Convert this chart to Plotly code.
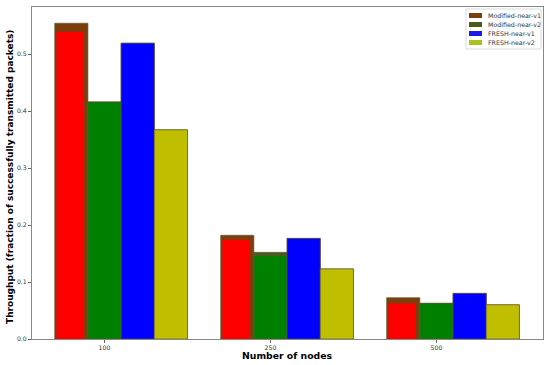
import plotly.graph_objects as go

# ---- data ----
categories = ["100", "250", "500"]
series_names = ["Modified-near-v1", "Modified-near-v2", "FRESH-near-v1", "FRESH-near-v2"]
mod_v1 = [0.554, 0.182, 0.0725]
mod_v2 = [0.416, 0.152, 0.0626]
fresh_v1 = [0.519, 0.1765, 0.080]
fresh_v2 = [0.367, 0.123, 0.060]
# inner overlay fills drawn on top of the Modified bars
mod_v1_inner = [0.539, 0.174, 0.0626]
mod_v2_inner = [0.416, 0.146, 0.0626]
y_ticks = [0.0, 0.1, 0.2, 0.3, 0.4, 0.5]

# ---- styles ----
legend_colors = ["#7B3F0E", "#4B5B1E", "#1A1AE6", "#A8C21E"]
fill_colors = ["#FF0000", "#008000", "#0000FF", "#BFBF00"]
offsets = [-0.3, -0.1, 0.1, 0.3]
W = 0.2
edge = dict(color="rgba(95,85,45,0.8)", width=0.8)

x = list(range(len(categories)))
fig = go.Figure()

base_vals = [mod_v1, mod_v2, fresh_v1, fresh_v2]
for name, vals, col, off in zip(series_names, base_vals, legend_colors, offsets):
    fig.add_trace(go.Bar(x=x, y=vals, name=name, offset=off, width=W,
                         marker=dict(color=col, line=edge), showlegend=False))

# overlay fills
fig.add_trace(go.Bar(x=x, y=mod_v1_inner, offset=-0.29, width=0.165,
                     marker=dict(color=fill_colors[0], line=dict(width=0)), showlegend=False))
fig.add_trace(go.Bar(x=x, y=mod_v2_inner, offset=-0.1, width=W,
                     marker=dict(color=fill_colors[1], line=edge), showlegend=False))
fig.add_trace(go.Bar(x=x, y=fresh_v1, offset=0.1, width=W,
                     marker=dict(color=fill_colors[2], line=edge), showlegend=False))
fig.add_trace(go.Bar(x=x, y=fresh_v2, offset=0.3, width=W,
                     marker=dict(color=fill_colors[3], line=edge), showlegend=False))

# ---- layout geometry (pixels) ----
L, R, T, B = 32, 543, 7, 339
PW, PH = R - L, B - T

def px_x(p):
    return (p - L) / PW

def px_y(p):
    return (B - p) / PH

shapes = []
annotations = []
# legend frame
shapes.append(dict(type="rect", xref="paper", yref="paper",
                   x0=px_x(466), x1=px_x(541), y0=px_y(49), y1=px_y(9),
                   line=dict(color="#d0d0d0", width=0.8), fillcolor="rgba(255,255,255,0.85)",
                   layer="above"))
row_y = [15.5, 24.5, 33.5, 42.5]
for name, col, ry in zip(series_names, legend_colors, row_y):
    shapes.append(dict(type="rect", xref="paper", yref="paper",
                       x0=px_x(469), x1=px_x(482), y0=px_y(ry + 2.5), y1=px_y(ry - 2.5),
                       line=dict(width=0), fillcolor=col, layer="above"))
    annotations.append(dict(xref="paper", yref="paper", x=px_x(486), y=px_y(ry),
                            xanchor="left", yanchor="middle", showarrow=False,
                            text=name, font=dict(family="DejaVu Sans", size=6.3, color="#333")))

# axis titles placed as annotations in pixel-derived paper coords
annotations.append(dict(xref="paper", yref="paper", x=px_x(287.5), y=px_y(355.5),
                        xanchor="center", yanchor="middle", showarrow=False,
                        text="<b>Number of nodes</b>",
                        font=dict(family="DejaVu Sans", size=9.3, color="#000")))
annotations.append(dict(xref="paper", yref="paper", x=px_x(10), y=px_y(177),
                        xanchor="center", yanchor="middle", showarrow=False, textangle=-90,
                        text="<b>Throughput (fraction of successfully transmitted packets)</b>",
                        font=dict(family="DejaVu Sans", size=9.0, color="#000")))

fig.update_layout(
    width=550, height=365,
    margin=dict(l=L, r=550 - R, t=T, b=365 - B, autoexpand=False),
    barmode="overlay",
    paper_bgcolor="white", plot_bgcolor="white",
    font=dict(family="DejaVu Sans", color="#222"),
    shapes=shapes, annotations=annotations,
    xaxis=dict(range=[-0.437, 2.642], tickvals=x, ticktext=categories,
               ticks="outside", ticklen=3, tickcolor="#666", tickwidth=0.8,
               showline=True, mirror=True, linecolor="#888", linewidth=1,
               showgrid=False, zeroline=False, automargin=False,
               tickfont=dict(size=6.2, color="#333")),
    yaxis=dict(range=[0, 0.5825], tickvals=y_ticks, tickformat=".1f",
               ticks="outside", ticklen=3, tickcolor="#666", tickwidth=0.8,
               showline=True, mirror=True, linecolor="#888", linewidth=1,
               showgrid=False, zeroline=False, automargin=False,
               tickfont=dict(size=6.2, color="#333")),
)

fig.write_html("out.html", config={"displayModeBar": False},
               post_script="document.body.style.margin='0';document.body.style.padding='0';")
